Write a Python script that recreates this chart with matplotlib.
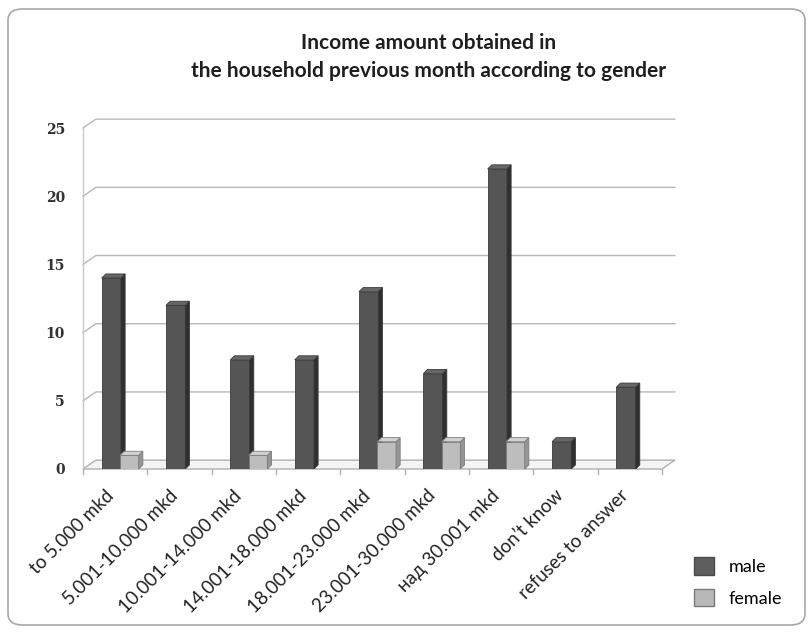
import matplotlib.pyplot as plt
from matplotlib.patches import FancyBboxPatch, Polygon, Patch

categories = ["to 5.000 mkd", "5.001-10.000 mkd", "10.001-14.000 mkd", "14.001-18.000 mkd",
              "18.001-23.000 mkd", "23.001-30.000 mkd", "над 30.001 mkd", "don’t know",
              "refuses to answer"]
male = [14, 12, 8, 8, 13, 7, 22, 2, 6]
female = [1, 0, 1, 0, 2, 2, 2, 0, 0]
yticks = [0, 5, 10, 15, 20, 25]

plt.rcParams['font.family'] = ['Lato', 'DejaVu Sans']

fig = plt.figure(figsize=(8.12, 6.33), dpi=100)
W, H = 812, 633

# rounded frame around everything
fig.patches.append(FancyBboxPatch((8 / W, 8 / H), 797 / W, 616 / H,
                                  boxstyle="round,pad=0,rounding_size=0.018",
                                  transform=fig.transFigure, fill=False,
                                  edgecolor="#a8a8a8", linewidth=1.2))

fig.text(0.528, 1 - 43 / H, "Income amount obtained in", ha="center", va="center",
         fontsize=15, fontweight="bold", color="#1e1e1e")
fig.text(0.528, 1 - 71 / H, "the household previous month according to gender",
         ha="center", va="center", fontsize=15, fontweight="bold", color="#1e1e1e")

ax = fig.add_axes([83 / W, 1 - 469 / H, 579 / W, 341 / H])
ax.set_xlim(-0.5, 8.5)
ax.set_ylim(0, 25)
for s in ax.spines.values():
    s.set_visible(False)
ax.set_facecolor("none")

# pseudo 3d depth (back wall offset)
dx, dy = 0.2, 0.65
grid_c = "#b8b8b8"
n = len(categories)
for v in yticks[1:]:
    ax.plot([-0.5, -0.5 + dx, n - 0.5 + dx], [v, v + dy, v + dy], color=grid_c, lw=1, clip_on=False)
ax.plot([-0.5, -0.5], [0, 25], color="#c8c8c8", lw=1, clip_on=False)
# floor
ax.add_patch(Polygon([(-0.5, 0), (n - 0.5, 0), (n - 0.5 + dx, dy), (-0.5 + dx, dy)],
                     closed=True, facecolor="#f4f4f4", edgecolor="#b0b0b0", lw=1, clip_on=False))
for b in range(n + 1):
    ax.plot([b - 0.5, b - 0.5], [0, -0.4], color="#b0b0b0", lw=1, clip_on=False)

# bars with side/top faces
bdx, bdy = 0.065, 0.3


def bar3d(x, w, v, front, side, top, edge):
    if v <= 0:
        return
    x0, x1 = x - w / 2, x + w / 2
    ax.bar(x, v, width=w, color=front, edgecolor=edge, linewidth=0.6, zorder=3)
    ax.add_patch(Polygon([(x1, 0), (x1 + bdx, bdy), (x1 + bdx, v + bdy), (x1, v)],
                         closed=True, facecolor=side, edgecolor=edge, lw=0.6, zorder=3))
    ax.add_patch(Polygon([(x0, v), (x1, v), (x1 + bdx, v + bdy), (x0 + bdx, v + bdy)],
                         closed=True, facecolor=top, edgecolor=edge, lw=0.6, zorder=3))


for i in range(n):
    bar3d(i - 0.06, 0.30, male[i], "#555555", "#2f2f2f", "#666666", "#3a3a3a")
for i in range(n):
    bar3d(i + 0.22, 0.29, female[i], "#bdbdbd", "#959595", "#d2d2d2", "#7c7c7c")

ax.set_yticks(yticks)
ax.set_yticklabels([str(t) for t in yticks], family="DejaVu Serif", fontweight="bold",
                   fontsize=10, color="#333333")
ax.tick_params(axis="y", length=0, pad=13)
ax.set_xticks([])
for i, c in enumerate(categories):
    ax.annotate(c, xy=(i - 0.07, 0), xycoords="data", xytext=(0, -24),
                textcoords="offset pixels", rotation=45, ha="right", va="center",
                rotation_mode="anchor", fontsize=13.5, color="#222222")

handles = [Patch(facecolor="#5e5e5e", edgecolor="#4a4a4a", label="male"),
           Patch(facecolor="#b8b8b8", edgecolor="#7a7a7a", label="female")]
fig.legend(handles=handles, loc="center left", bbox_to_anchor=(685 / W, 1 - 582 / H),
           frameon=False, fontsize=13, handlelength=1.1, handleheight=1.1,
           labelspacing=0.75, handletextpad=0.8, borderpad=0)

fig.savefig("out.png", dpi=100)
